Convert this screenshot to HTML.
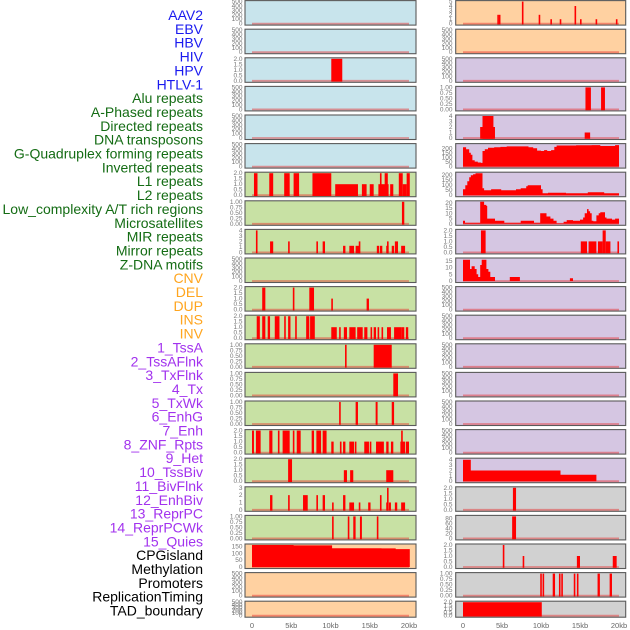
<!DOCTYPE html>
<html><head><meta charset="utf-8">
<style>
html,body{margin:0;padding:0;background:#fff;width:630px;height:630px;overflow:hidden}
svg{display:block;font-family:"Liberation Sans",sans-serif}
</style></head>
<body>
<svg id="chart" width="630" height="630" viewBox="0 0 630 630" xmlns="http://www.w3.org/2000/svg"></svg>
<script>
// ---- track labels ----
const trackLabels = ["AAV2","EBV","HBV","HIV","HPV","HTLV-1","Alu repeats","A-Phased repeats","Directed repeats","DNA transposons","G-Quadruplex forming repeats","Inverted repeats","L1 repeats","L2 repeats","Low_complexity A/T rich regions","Microsatellites","MIR repeats","Mirror repeats","Z-DNA motifs","CNV","DEL","DUP","INS","INV","1_TssA","2_TssAFlnk","3_TxFlnk","4_Tx","5_TxWk","6_EnhG","7_Enh","8_ZNF_Rpts","9_Het","10_TssBiv","11_BivFlnk","12_EnhBiv","13_ReprPC","14_ReprPCWk","15_Quies","CPGisland","Methylation","Promoters","ReplicationTiming","TAD_boundary"];
const labelGroups = ["virus","virus","virus","virus","virus","virus","repeat","repeat","repeat","repeat","repeat","repeat","repeat","repeat","repeat","repeat","repeat","repeat","repeat","sv","sv","sv","sv","sv","chrom","chrom","chrom","chrom","chrom","chrom","chrom","chrom","chrom","chrom","chrom","chrom","chrom","chrom","chrom","other","other","other","other","other"];

// ---- x axis ----
const xTickValues = [0,5,10,15,20];
const xTickLabels = ["0","5kb","10kb","15kb","20kb"];

// ---- tick sets ----
const t500 = [0,100,200,300,400,500];
const t500Labels = ["0","100","200","300","400","500"];
const t2 = [0,0.5,1,1.5,2];
const t2Labels = ["0.0","0.5","1.0","1.5","2.0"];
const t1 = [0,0.25,0.5,0.75,1];
const t1Labels = ["0.00","0.25","0.50","0.75","1.00"];
const t3 = [0,1,2,3];
const t3Labels = ["0","1","2","3"];
const t4 = [0,1,2,3,4];
const t4Labels = ["0","1","2","3","4"];
const t5 = [0,1,2,3,4,5];
const t5Labels = ["0","1","2","3","4","5"];
const t150 = [0,50,100,150];
const t150Labels = ["0","50","100","150"];
const t200 = [0,50,100,150,200];
const t200Labels = ["0","50","100","150","200"];
const t20 = [0,5,10,15,20];
const t20Labels = ["0","5","10","15","20"];
const t15 = [0,5,10,15];
const t15Labels = ["0","5","10","15"];
const t80 = [0,20,40,60,80];
const t80Labels = ["0","20","40","60","80"];

// ---- left column data: bars [startKb, endKb, value] ----
const L02_bars = [[10.1,11.5,2]];
const L06_bars = [[0.25,0.7,2],[2.2,2.7,2],[4.1,4.8,2],[5.3,6.0,2],[7.7,10.1,2],[10.6,13.5,1],[14.0,14.6,1],[15.0,15.5,1],[16.1,17.4,1],[16.3,16.5,2],[16.9,17.3,2],[17.6,18.0,1],[18.7,19.2,2],[19.2,19.7,1],[19.7,20.1,2]];
const L07_bars = [[19.1,19.4,1]];
const L08_bars = [[0.5,0.7,4],[2.3,2.7,2],[4.6,4.8,2],[8.2,8.4,2],[9.0,9.3,2],[11.6,11.9,1.2],[12.4,13.0,1.2],[13.2,13.7,1.2],[13.6,13.8,2],[15.9,16.2,1.2],[16.3,16.6,1.2],[17.1,17.4,1.2],[17.2,17.4,2],[17.8,18.1,1.2],[18.2,18.6,2],[19.0,19.5,1.2]];
const L10_bars = [[1.3,1.7,2],[5.2,5.4,2],[7.3,7.9,2],[10.1,10.3,1],[14.6,14.9,1]];
const L11_bars = [[0.6,1.0,2],[1.3,1.7,2],[2.0,2.3,2],[2.9,3.5,2],[4.1,4.3,2],[4.6,4.9,2],[5.5,5.7,2],[6.9,7.3,2],[7.4,8.0,2],[10.1,10.8,1],[11.1,11.3,1],[11.7,12.1,1],[12.4,13.2,1],[13.4,14.1,1],[14.3,14.7,1],[15.1,15.3,1],[15.5,15.8,1],[16.0,16.2,1],[16.5,16.7,1],[17.2,17.7,1],[18.1,19.0,1],[19.0,19.4,1],[19.6,19.9,1]];
const L12_bars = [[11.85,12.05,1],[15.5,17.8,1]];
const L13_bars = [[18.0,18.6,1]];
const L14_bars = [[11.1,11.3,1],[13.2,13.5,1],[15.75,16.0,1],[17.8,18.1,1]];
const L15_bars = [[0,0.25,2],[0.5,1.1,2],[2.2,2.6,2],[3.3,3.5,2],[3.9,4.8,2],[5.2,5.4,2],[5.7,6.2,2],[7.6,7.9,2],[8.2,8.8,2],[9.0,9.5,2],[19.0,19.2,2],[10.1,10.4,1],[11.2,11.4,1],[11.6,11.9,1],[12.4,13.0,1],[13.1,13.3,1],[14.3,14.9,1],[15.0,15.2,1],[15.8,16.8,1],[17.1,17.4,1],[17.7,18.0,1],[18.9,19.5,1],[19.6,20.0,1]];
const L16_bars = [[4.6,5.1,2],[11.7,12.1,1],[12.5,12.9,1],[17.1,18.0,1]];
const L17_bars = [[2.3,2.6,2],[4.6,4.8,2],[6.5,7.1,2],[8.2,8.4,2],[9.0,9.3,2],[10.2,10.4,1],[11.6,11.9,2],[12.4,13.0,1],[13.6,13.8,1],[14.8,15.1,1],[16.3,16.5,2],[17.1,17.4,1],[17.2,17.4,3],[17.45,17.7,1],[18.2,18.5,1],[19.0,19.5,1]];
const L18_bars = [[10.2,10.4,1],[12.2,12.4,1],[12.9,13.2,1],[13.75,14.0,1],[15.9,16.1,1]];
// steps [startKb, value], last segment ends at endKb
const L19_steps = [[0,160],[5.3,157],[10.2,136],[16.5,135],[18.3,130]];
const L19_end = 20.1;

// ---- right column data ----
const R00_bars = [[4.4,4.6,2],[4.6,4.8,2],[7.55,7.75,5],[9.7,9.9,2],[11.2,11.4,1],[12.4,12.6,1],[14.3,14.5,4],[15.0,15.2,1],[17.0,17.2,1],[19.6,19.8,1]];
const R03_bars = [[15.7,16.4,1],[17.7,18.2,1]];
const R04_bars = [[2.2,4.1,2],[2.5,3.9,4],[15.6,16.3,1]];
const R05_steps = [[0,210],[0.4,190],[0.8,150],[1.0,130],[1.2,70],[1.5,55],[1.9,45],[2.3,40],[2.5,170],[2.8,190],[3.2,205],[4.0,210],[4.8,215],[5.6,220],[7.6,220],[8.4,210],[9.0,200],[9.5,175],[10.0,170],[10.4,180],[10.8,170],[11.3,180],[11.7,215],[12.0,230],[14.5,232],[16.5,235],[17.6,225],[19.5,235]];
const R06_steps = [[0,60],[0.3,100],[0.55,140],[0.8,180],[1.0,200],[1.3,210],[1.6,220],[2.5,70],[2.7,50],[3.6,60],[4.9,50],[6.8,60],[7.4,70],[8.1,90],[8.3,100],[10.0,60],[10.2,20],[10.9,25],[11.9,25],[13.2,20],[16.0,30],[18.1,20]];
const R07_steps = [[0,3],[0.26,1],[2.2,21],[2.7,18],[3.0,17],[3.1,5],[4.1,3],[5.3,1],[7.4,3],[9.1,1],[9.9,10],[10.7,7],[11.2,5],[11.6,3],[12.0,0.5],[12.9,2],[13.3,3.5],[14.1,3],[15.0,4],[15.4,6],[15.6,10],[15.9,14],[16.1,12],[16.3,10],[16.5,3],[16.7,2.5],[17.1,8],[17.4,10],[17.6,11],[18.2,6],[18.4,5],[19.1,4],[19.5,5]];
const R08_bars = [[2.3,2.9,2],[15.1,15.9,1],[16.1,17.1,1],[17.3,17.9,1],[17.9,18.3,2],[18.3,18.9,1],[19.8,20.0,1]];
const R09_steps = [[0,16],[0.9,9],[1.1,11],[1.5,9],[1.75,5],[1.95,3],[2.2,12],[2.4,16],[3.0,9],[3.25,7],[3.5,3],[4.1,0],[6.0,3],[7.3,0],[13.7,2],[14.1,0]];
const R16_steps = [[0,4],[1.0,2],[12.5,1.2],[17.1,0]];
const R17_bars = [[6.4,6.8,2]];
const R18_bars = [[6.3,6.8,88]];
const R19_bars = [[5.1,5.3,2],[7.65,7.85,1],[14.6,15.0,1],[19.2,19.7,1]];
const R20_bars = [[9.9,10.1,1],[10.2,10.4,1],[11.5,11.8,1],[12.3,12.5,1],[12.6,12.8,1],[14.2,14.4,1],[14.6,14.8,1],[17.25,17.55,1],[18.8,19.1,1]];
const R21_bars = [[0,10.1,2]];

const fills = {blue:"#c8e4ec", green:"#c8e1a4", orange:"#ffd1a1", purple:"#d5c6e2", gray:"#d1d1d1"};
const labelColors = {virus:"#1a1aef", repeat:"#146c14", sv:"#ffa51e", chrom:"#a232ee", other:"#000000"};

const cols = {
  L:{x0:245, x1:416, k0:252, k1:409, tickX:242.5},
  R:{x0:455.7, x1:625.7, k0:463, k1:619, tickX:452.5}
};
function xScale(col, kb){ return col.k0 + kb/20*(col.k1-col.k0); }
function rowTop(i){ return 0.6 + 28.6*i; }
function rowH(i){ return i===21 ? 16 : 24.5; }
function yScale(row, ymax, v){ const b = rowTop(row)+rowH(row)-1.5; return b - v/ymax*(rowH(row)-2.5); }

const panels = [
  {c:"L",r:0,f:"blue",t:t500,tl:t500Labels,m:500},
  {c:"L",r:1,f:"blue",t:t500,tl:t500Labels,m:500},
  {c:"L",r:2,f:"blue",t:t2,tl:t2Labels,m:2,bars:L02_bars},
  {c:"L",r:3,f:"blue",t:t500,tl:t500Labels,m:500},
  {c:"L",r:4,f:"blue",t:t500,tl:t500Labels,m:500},
  {c:"L",r:5,f:"blue",t:t500,tl:t500Labels,m:500},
  {c:"L",r:6,f:"green",t:t2,tl:t2Labels,m:2,bars:L06_bars},
  {c:"L",r:7,f:"green",t:t1,tl:t1Labels,m:1,bars:L07_bars},
  {c:"L",r:8,f:"green",t:t4,tl:t4Labels,m:4,bars:L08_bars},
  {c:"L",r:9,f:"green",t:t500,tl:t500Labels,m:500},
  {c:"L",r:10,f:"green",t:t2,tl:t2Labels,m:2,bars:L10_bars},
  {c:"L",r:11,f:"green",t:t2,tl:t2Labels,m:2,bars:L11_bars},
  {c:"L",r:12,f:"green",t:t1,tl:t1Labels,m:1,bars:L12_bars},
  {c:"L",r:13,f:"green",t:t1,tl:t1Labels,m:1,bars:L13_bars},
  {c:"L",r:14,f:"green",t:t1,tl:t1Labels,m:1,bars:L14_bars},
  {c:"L",r:15,f:"green",t:t2,tl:t2Labels,m:2,bars:L15_bars},
  {c:"L",r:16,f:"green",t:t2,tl:t2Labels,m:2,bars:L16_bars},
  {c:"L",r:17,f:"green",t:t3,tl:t3Labels,m:3,bars:L17_bars},
  {c:"L",r:18,f:"green",t:t1,tl:t1Labels,m:1,bars:L18_bars},
  {c:"L",r:19,f:"orange",t:t150,tl:t150Labels,m:160,steps:L19_steps,end:L19_end},
  {c:"L",r:20,f:"orange",t:t500,tl:t500Labels,m:500},
  {c:"L",r:21,f:"orange",t:t500,tl:t500Labels,m:500},
  {c:"R",r:0,f:"orange",t:t5,tl:t5Labels,m:5,bars:R00_bars},
  {c:"R",r:1,f:"orange",t:t500,tl:t500Labels,m:500},
  {c:"R",r:2,f:"purple",t:t500,tl:t500Labels,m:500},
  {c:"R",r:3,f:"purple",t:t1,tl:t1Labels,m:1,bars:R03_bars},
  {c:"R",r:4,f:"purple",t:t4,tl:t4Labels,m:4,bars:R04_bars},
  {c:"R",r:5,f:"purple",t:t200,tl:t200Labels,m:240,steps:R05_steps,end:20},
  {c:"R",r:6,f:"purple",t:t200,tl:t200Labels,m:220,steps:R06_steps,end:20},
  {c:"R",r:7,f:"purple",t:t20,tl:t20Labels,m:21,steps:R07_steps,end:20},
  {c:"R",r:8,f:"purple",t:t2,tl:t2Labels,m:2,bars:R08_bars},
  {c:"R",r:9,f:"purple",t:t15,tl:t15Labels,m:16.5,steps:R09_steps,end:20},
  {c:"R",r:10,f:"purple",t:t500,tl:t500Labels,m:500},
  {c:"R",r:11,f:"purple",t:t500,tl:t500Labels,m:500},
  {c:"R",r:12,f:"purple",t:t500,tl:t500Labels,m:500},
  {c:"R",r:13,f:"purple",t:t500,tl:t500Labels,m:500},
  {c:"R",r:14,f:"purple",t:t500,tl:t500Labels,m:500},
  {c:"R",r:15,f:"purple",t:t500,tl:t500Labels,m:500},
  {c:"R",r:16,f:"purple",t:t4,tl:t4Labels,m:4.1,steps:R16_steps,end:20},
  {c:"R",r:17,f:"gray",t:t2,tl:t2Labels,m:2,bars:R17_bars},
  {c:"R",r:18,f:"gray",t:t80,tl:t80Labels,m:88,bars:R18_bars},
  {c:"R",r:19,f:"gray",t:t2,tl:t2Labels,m:2,bars:R19_bars},
  {c:"R",r:20,f:"gray",t:t1,tl:t1Labels,m:1,bars:R20_bars},
  {c:"R",r:21,f:"gray",t:t2,tl:t2Labels,m:2,bars:R21_bars}
];

const NS = "http://www.w3.org/2000/svg";
const svg = document.getElementById("chart");
function mk(tag, attrs){ const e = document.createElementNS(NS, tag); for (const k in attrs) e.setAttribute(k, attrs[k]); return e; }

// labels
trackLabels.forEach((lab, i) => {
  const t = mk("text", {x:203, y:(20 + i*13.85).toFixed(1), "text-anchor":"end", "font-size":"14", fill:labelColors[labelGroups[i]]});
  
  
  t.textContent = lab;
  svg.appendChild(t);
});

panels.forEach(p => {
  const col = cols[p.c];
  const top = rowTop(p.r), h = rowH(p.r);
  const g = mk("g", {});
  
  
  svg.appendChild(g);
  const bg = mk("rect", {x:col.x0, y:top, width:col.x1-col.x0, height:h, fill:fills[p.f], stroke:"#5a5a5a", "stroke-width":"1.1"});
  
  
  g.appendChild(bg);
  const y0 = yScale(p.r, p.m, 0);
  const bl = mk("line", {x1:xScale(col,0), x2:xScale(col,20), y1:y0, y2:y0, stroke:"rgba(230,40,40,0.45)", "stroke-width":"1.8"});
  
  
  g.appendChild(bl);
  if (p.bars) p.bars.forEach(b => {
    const xa = xScale(col, b[0]), xb = xScale(col, b[1]);
    const yv = yScale(p.r, p.m, b[2]);
    const w = Math.max(1.6, xb - xa);
    const r = mk("rect", {x:xa, y:yv, width:w, height:Math.max(0, y0 - yv + 0.8), fill:"#ff0000"});
    
    
    g.appendChild(r);
  });
  if (p.steps) {
    let d = "M" + xScale(col, p.steps[0][0]).toFixed(1) + "," + y0.toFixed(1);
    p.steps.forEach((s, i) => {
      const xa = xScale(col, s[0]);
      const xb = xScale(col, i < p.steps.length-1 ? p.steps[i+1][0] : p.end);
      const yv = yScale(p.r, p.m, s[1]);
      d += " L" + xa.toFixed(1) + "," + yv.toFixed(1) + " L" + xb.toFixed(1) + "," + yv.toFixed(1);
    });
    d += " L" + xScale(col, p.end).toFixed(1) + "," + y0.toFixed(1) + " Z";
    const a = mk("path", {d:d, fill:"#ff0000"});
    
    
    g.appendChild(a);
  }
  p.t.forEach((v, i) => {
    const tt = mk("text", {x:col.tickX, y:(yScale(p.r, p.m, v) + 2).toFixed(1), "text-anchor":"end", "font-size":"6.5", fill:"#777"});
    
    
    tt.textContent = p.tl[i];
    g.appendChild(tt);
  });
});

["L","R"].forEach(c => {
  const col = cols[c];
  xTickValues.forEach((v, i) => {
    const t = mk("text", {x:xScale(col, v).toFixed(1), y:628, "text-anchor":"middle", "font-size":"7.5", fill:"#666"});
    
    
    t.textContent = xTickLabels[i];
    svg.appendChild(t);
  });
});
</script>
</body></html>
